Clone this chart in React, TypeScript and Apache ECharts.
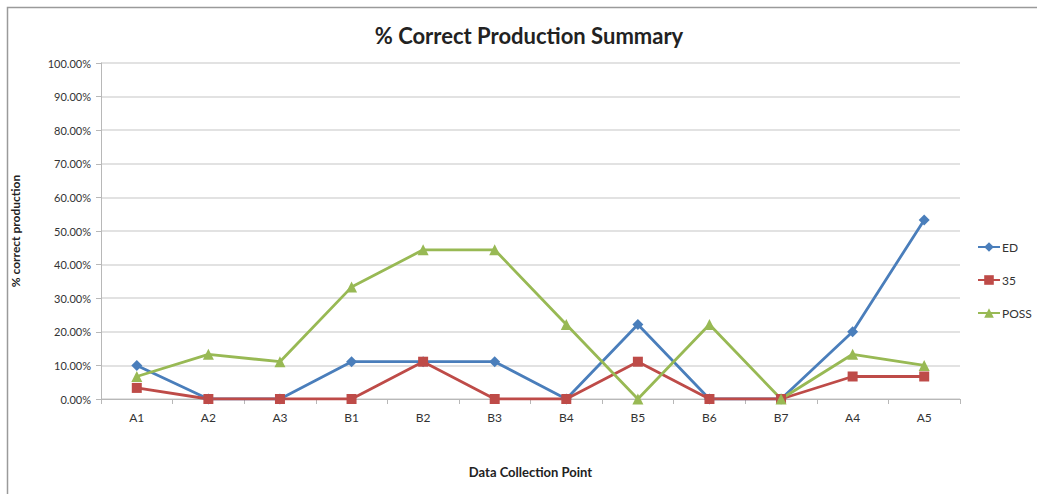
import React, { useEffect, useRef } from "react";
import * as echarts from "echarts";

const categories = ["A1", "A2", "A3", "B1", "B2", "B3", "B4", "B5", "B6", "B7", "A4", "A5"];
const edValues = [10, 0, 0, 11.1, 11.1, 11.1, 0, 22.2, 0, 0, 20, 53.3];
const s35Values = [3.3, 0, 0, 0, 11.1, 0, 0, 11.1, 0, 0, 6.7, 6.7];
const possValues = [6.7, 13.3, 11.1, 33.3, 44.4, 44.4, 22.2, 0, 22.2, 0, 13.3, 10];

const FONT = "Lato";

export default function App() {
  const ref = useRef<HTMLDivElement>(null);
  useEffect(() => {
    if (!ref.current) return;
    const chart = echarts.init(ref.current, null, { renderer: "svg" });
    const mk = (name: string, data: number[], color: string, symbol: string, size: number) => ({
      name,
      type: "line",
      data,
      symbol,
      symbolSize: size,
      itemStyle: { color },
      lineStyle: { color, width: 2.8 },
    });
    chart.setOption({
      animation: false,
      backgroundColor: "#ffffff",
      textStyle: { fontFamily: FONT },
      title: {
        text: "% Correct Production Summary",
        left: 524,
        top: 19,
        textAlign: "center",
        textStyle: { fontFamily: FONT, fontSize: 22, fontWeight: "bold", color: "#222" },
      },
      graphic: [
        {
          type: "rect",
          shape: { x: 7.5, y: 7.5, width: 1040, height: 500 },
          style: { fill: "none", stroke: "#9a9a9a", lineWidth: 1.5 },
          silent: true,
        },
      ],
      legend: {
        orient: "vertical",
        left: 972,
        top: 236,
        itemGap: 21,
        itemWidth: 22,
        itemHeight: 12,
        textStyle: { fontFamily: FONT, fontSize: 12, color: "#333", padding: [0, 0, 0, -3] },
        data: ["ED", "35", "POSS"],
      },
      grid: { left: 101, right: 77, top: 63, bottom: 95, containLabel: false },
      xAxis: {
        type: "category",
        data: categories,
        boundaryGap: true,
        name: "Data Collection Point",
        nameLocation: "middle",
        nameGap: 66,
        nameTextStyle: { fontFamily: FONT, fontSize: 13, fontWeight: "bold", color: "#222" },
        axisLine: { lineStyle: { color: "#b8b8b8", width: 1 } },
        axisTick: { show: true, alignWithLabel: false, length: 5, lineStyle: { color: "#b8b8b8" } },
        axisLabel: { fontFamily: FONT, fontSize: 12, color: "#333", margin: 12 },
      },
      yAxis: {
        type: "value",
        min: 0,
        max: 100,
        interval: 10,
        name: "% correct production",
        nameLocation: "middle",
        nameGap: 80,
        nameTextStyle: { fontFamily: FONT, fontSize: 12, fontWeight: "bold", color: "#222" },
        axisLine: { show: true, lineStyle: { color: "#b8b8b8" } },
        axisTick: { show: true, length: 5, lineStyle: { color: "#b8b8b8" } },
        axisLabel: {
          fontFamily: FONT,
          fontSize: 11,
          color: "#333",
          margin: 10,
          formatter: (v: number) => v.toFixed(2) + "%",
        },
        splitLine: { lineStyle: { color: "#d9d9d9", width: 1.5 } },
      },
      series: [
        mk("ED", edValues, "#4a7ebb", "diamond", 11),
        mk("35", s35Values, "#be4b48", "rect", 10),
        mk("POSS", possValues, "#98b954", "triangle", 11),
      ],
    });
    return () => chart.dispose();
  }, []);
  return (
    <div
      ref={ref}
      style={{ position: "absolute", left: 0, top: 0, width: 1037, height: 494 }}
    />
  );
}
